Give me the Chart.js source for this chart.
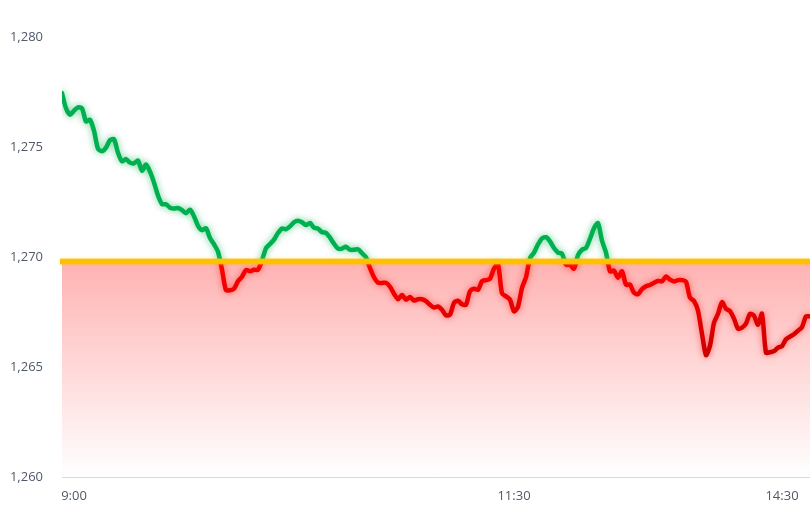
<!DOCTYPE html>
<html>
<head>
<meta charset="utf-8">
<script src="https://cdn.jsdelivr.net/npm/chart.js@4.4.1/dist/chart.umd.min.js"></script>
<style>
  html, body { margin: 0; padding: 0; background: #fff; }
</style>
</head>
<body>
<canvas id="priceChart" width="810" height="506"></canvas>
<script>
  // ---- Data -----------------------------------------------
  const PRICES = [
    1277.45, 1276.76, 1276.47, 1276.65, 1276.80, 1276.76, 1276.16, 1276.24, 1275.74, 1274.92,
    1274.81, 1274.97, 1275.31, 1275.35, 1274.74, 1274.35, 1274.45, 1274.29, 1274.26, 1274.38,
    1273.92, 1274.20, 1273.88, 1273.38, 1272.79, 1272.40, 1272.40, 1272.24, 1272.20, 1272.23,
    1272.13, 1271.99, 1272.15, 1271.85, 1271.42, 1271.22, 1271.31, 1270.86, 1270.58, 1270.24,
    1269.42, 1268.49, 1268.49, 1268.56, 1268.90, 1269.10, 1269.41, 1269.35, 1269.42, 1269.42,
    1269.85, 1270.40, 1270.59, 1270.79, 1271.09, 1271.29, 1271.26, 1271.39, 1271.58, 1271.65,
    1271.58, 1271.45, 1271.55, 1271.33, 1271.29, 1271.13, 1271.10, 1270.88, 1270.60, 1270.38,
    1270.38, 1270.47, 1270.33, 1270.33, 1270.35, 1270.17, 1269.99, 1269.50, 1269.08, 1268.83,
    1268.82, 1268.83, 1268.65, 1268.33, 1268.08, 1268.27, 1268.06, 1268.18, 1268.02, 1268.08,
    1268.08, 1267.99, 1267.83, 1267.70, 1267.75, 1267.60, 1267.35, 1267.38, 1267.92, 1268.01,
    1267.85, 1267.83, 1268.44, 1268.56, 1268.51, 1268.90, 1268.95, 1269.01, 1269.47, 1269.67,
    1268.35, 1268.21, 1268.06, 1267.53, 1267.74, 1268.60, 1269.08, 1269.95, 1270.20, 1270.57,
    1270.85, 1270.90, 1270.71, 1270.41, 1270.20, 1270.15, 1269.65, 1269.65, 1269.47, 1270.08,
    1270.33, 1270.41, 1270.83, 1271.31, 1271.54, 1270.74, 1270.20, 1269.35, 1269.38, 1269.06,
    1269.35, 1268.74, 1268.74, 1268.38, 1268.31, 1268.54, 1268.67, 1268.73, 1268.83, 1268.91,
    1268.90, 1269.11, 1268.97, 1268.89, 1268.95, 1268.95, 1268.88, 1268.15, 1268.00, 1267.56,
    1266.51, 1265.54, 1265.97, 1267.01, 1267.42, 1267.95, 1267.65, 1267.54, 1267.20, 1266.74,
    1266.79, 1266.97, 1267.42, 1267.33, 1266.92, 1267.42, 1265.65, 1265.67, 1265.72, 1265.88,
    1265.95, 1266.26, 1266.38, 1266.49, 1266.65, 1266.81, 1267.30, 1267.30
  ];
  const BASELINE = 1269.8;          // previous close
  const Y_TICKS = [1260, 1265, 1270, 1275, 1280];
  const X_TICK_INDEX = [3, 113, 180];
  const X_TICK_LABELS = ['9:00', '11:30', '14:30'];

  const TEXT = '#505968';
  const FONT = { family: "'Open Sans', 'Noto Sans', sans-serif", size: 13 };

  // ---- Plugin: red band under the baseline, clip + glow per side, gold line ----
  const baselinePlugin = {
    id: 'baseline',
    beforeDatasetsDraw(chart) {
      const { ctx, chartArea: a, scales: { y } } = chart;
      const top = y.getPixelForValue(BASELINE);
      const bottom = y.getPixelForValue(Y_TICKS[0]);
      const g = ctx.createLinearGradient(0, top, 0, bottom);
      g.addColorStop(0, 'rgba(255,0,0,0.30)');
      g.addColorStop(1, 'rgba(255,0,0,0)');
      ctx.save();
      ctx.fillStyle = g;
      ctx.fillRect(a.left, top, a.right - a.left, bottom - top);
      ctx.restore();
    },
    beforeDatasetDraw(chart, args) {
      const side = chart.data.datasets[args.index].side;
      const { ctx, scales: { y } } = chart;
      const yb = y.getPixelForValue(BASELINE);
      ctx.save();
      ctx.beginPath();
      if (side === 'up') ctx.rect(0, 0, chart.width, yb);
      else ctx.rect(0, yb, chart.width, chart.height - yb);
      ctx.clip();
      ctx.shadowColor = side === 'up' ? 'rgba(0,176,80,0.6)' : 'rgba(255,0,0,0.5)';
      ctx.shadowBlur = 7;
    },
    afterDatasetDraw(chart) {
      chart.ctx.restore();
    },
    afterDatasetsDraw(chart) {
      const { ctx, chartArea: a, scales: { y } } = chart;
      const yb = y.getPixelForValue(BASELINE);
      ctx.save();
      ctx.strokeStyle = '#ffc000';
      ctx.lineWidth = 5.5;
      ctx.shadowColor = 'rgba(255,192,0,0.6)';
      ctx.shadowBlur = 3;
      ctx.beginPath();
      ctx.moveTo(a.left - 2, yb);
      ctx.lineTo(a.right, yb);
      ctx.stroke();
      ctx.restore();
    },
  };

  function redStroke(c) {
    const chart = c.chart;
    if (!chart.chartArea) return '#ff0000';
    const y = chart.scales.y;
    const g = chart.ctx.createLinearGradient(0, y.getPixelForValue(BASELINE), 0, y.getPixelForValue(1265));
    g.addColorStop(0, '#ff0000');
    g.addColorStop(1, '#c80000');
    return g;
  }

  const points = PRICES.map((v, i) => ({ x: i, y: v }));
  const lineStyle = {
    borderWidth: 4.5,
    pointRadius: 0,
    tension: 0.25,
    fill: false,
    borderJoinStyle: 'round',
    borderCapStyle: 'round',
  };

  new Chart(document.getElementById('priceChart'), {
    type: 'line',
    data: {
      datasets: [
        { ...lineStyle, side: 'up', data: points, borderColor: '#00b050' },
        { ...lineStyle, side: 'down', data: points, borderColor: redStroke },
      ],
    },
    options: {
      responsive: false,
      animation: false,
      layout: { padding: { top: 37, right: 0, bottom: 0, left: 0 } },
      scales: {
        x: {
          type: 'linear',
          min: 0,
          max: PRICES.length - 1,
          afterBuildTicks: (s) => { s.ticks = X_TICK_INDEX.map((v) => ({ value: v })); },
          afterFit: (s) => { s.height = 29; s.paddingLeft = 0; s.paddingRight = 0; },
          grid: { display: false, drawTicks: false },
          border: { display: true, color: '#d9d9d9', width: 1 },
          ticks: {
            autoSkip: false,
            maxRotation: 0,
            padding: 11,
            color: TEXT,
            font: FONT,
            callback: (v) => X_TICK_LABELS[X_TICK_INDEX.indexOf(v)] || '',
          },
        },
        y: {
          min: Y_TICKS[0],
          max: Y_TICKS[Y_TICKS.length - 1],
          afterBuildTicks: (s) => { s.ticks = Y_TICKS.map((v) => ({ value: v })); },
          afterFit: (s) => { s.width = 62; },
          grid: { display: false, drawTicks: false },
          border: { display: false },
          ticks: {
            padding: 19,
            color: TEXT,
            font: FONT,
            callback: (v) => v.toLocaleString('en-US'),
          },
        },
      },
      plugins: {
        legend: { display: false },
        tooltip: { enabled: false },
      },
    },
    plugins: [baselinePlugin],
  });
</script>
</body>
</html>
